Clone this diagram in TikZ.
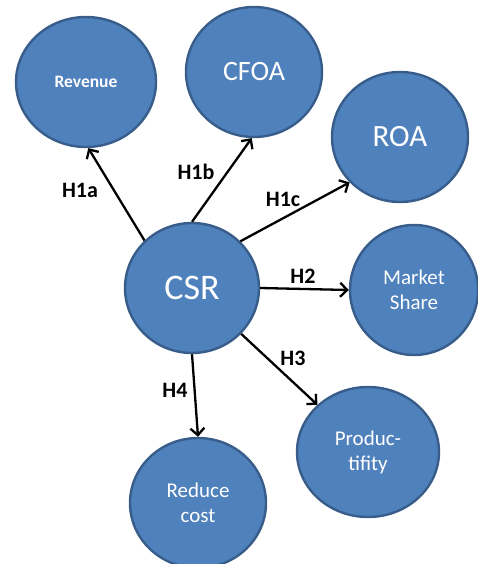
\documentclass[tikz,border=0pt]{standalone}
\usepackage{fontspec}
\setmainfont{Carlito}
\usetikzlibrary{shapes.geometric,arrows.meta}
\definecolor{bubblefill}{HTML}{4F81BD}
\definecolor{bubbleedge}{HTML}{385D8A}
\tikzset{
  bubble/.style={ellipse, draw=bubbleedge, fill=bubblefill, line width=2.4pt, inner sep=0pt,
    text=white, align=center},
  arr/.style={-{Straight Barb[length=7pt,width=14pt]}, line width=2.3pt, black},
  hlabel/.style={font=\fontsize{22}{26}\selectfont\bfseries, inner sep=0pt}
}
\begin{document}
\begin{tikzpicture}[x=1pt,y=-1pt]
\useasboundingbox (0,0) rectangle (478,564);
\node[bubble, minimum width=140pt, minimum height=130pt, font=\fontsize{17.5}{20}\selectfont\bfseries] (rev) at (86,82) {Revenue};
\node[bubble, minimum width=136pt, minimum height=130pt, font=\fontsize{28}{32}\selectfont] (cfoa) at (254,72) {CFOA};
\node[bubble, minimum width=136pt, minimum height=130pt, font=\fontsize{31}{36}\selectfont] (roa) at (400,137) {ROA};
\node[bubble, minimum width=134pt, minimum height=130pt, font=\fontsize{36}{40}\selectfont] (csr) at (192,288) {CSR};
\node[bubble, minimum width=128pt, minimum height=130pt, font=\fontsize{21}{25}\selectfont] (ms) at (414,290) {Market\\Share};
\node[bubble, minimum width=142pt, minimum height=130pt, font=\fontsize{21}{25}\selectfont] (prod) at (368,452) {Produc-\\tifity};
\node[bubble, minimum width=136pt, minimum height=130pt, font=\fontsize{21}{25}\selectfont] (red) at (198,503) {Reduce\\cost};

\draw[arr] (csr.135) -- (rev.-88);
\draw[arr] (csr.90) -- (cfoa.-92);
\draw[arr] (csr.44) -- (roa.222);
\draw[arr] (csr.0) -- (ms.180);
\draw[arr] (csr.-43) -- (prod.137);
\draw[arr] (csr.-90) -- (red.90);

\node[hlabel] (l1a) at (80,190) {H1a};
\node[hlabel] (l1b) at (196,172) {H1b};
\node[hlabel] (l1c) at (283,199) {H1c};
\node[hlabel] (l2) at (303,276) {H2};
\node[hlabel] (l3) at (293,358) {H3};
\node[hlabel] (l4) at (175,390) {H4};
\end{tikzpicture}
\end{document}
